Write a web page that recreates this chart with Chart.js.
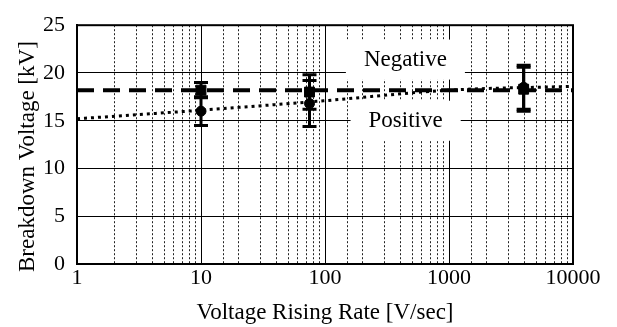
<!DOCTYPE html>
<html>
<head>
<meta charset="utf-8">
<script src="https://cdn.jsdelivr.net/npm/chart.js@4.4.0/dist/chart.umd.min.js"></script>
<style>
  html, body { margin: 0; padding: 0; background: #fff; }
  #wrap { width: 617px; height: 327px; }
</style>
</head>
<body>
<div id="wrap"><canvas id="chart" width="617" height="327"></canvas></div>
<script>
// measured points
const rates = [10, 75, 4000];
const negative = [18.2, 18.0, 18.3];
const negativeErr = [0.8, 1.8, 2.3];
const positive = [16.0, 16.8, 18.5];
const positiveErr = [1.5, 2.4, 2.3];

// fitted lines
const fitRates = [1, 10, 100, 1000, 10000];
const negativeFit = [18.2, 18.2, 18.2, 18.2, 18.2];
const positiveFit = [15.2, 16.1, 17.1, 18.2, 18.6];

const xTicks = [1, 10, 100, 1000, 10000];

// in-plot labels
const labelText = ['Negative', 'Positive'];
const labelRate = [445, 447];
const labelVolt = [21.4, 15.0];

const yTitle = 'Breakdown Voltage [kV]';
const FONT = '"Liberation Serif", "Times New Roman", serif';

function pts(xs, ys) {
    return xs.map((v, i) => ({ x: v, y: ys[i] }));
}

function isDecade(v) {
    return xTicks.includes(Math.round(v));
}

const extras = {
    id: 'extras',
    beforeDatasetsDraw(chart) {
        const { ctx, chartArea: a, scales: { x, y } } = chart;
        ctx.save();
        // dotted minor grid
        ctx.strokeStyle = '#222';
        ctx.lineWidth = 1;
        ctx.setLineDash([2, 2]);
        x.ticks.forEach(t => {
            if (isDecade(t.value)) return;
            const px = Math.round(x.getPixelForValue(t.value)) + 0.5;
            ctx.beginPath();
            ctx.moveTo(px, a.top);
            ctx.lineTo(px, a.bottom);
            ctx.stroke();
        });
        ctx.setLineDash([]);
        // labels on white boxes
        ctx.font = '23px ' + FONT;
        ctx.textAlign = 'center';
        ctx.textBaseline = 'middle';
        labelText.forEach((txt, i) => {
            const px = x.getPixelForValue(labelRate[i]);
            const py = y.getPixelForValue(labelVolt[i]);
            const w = ctx.measureText(txt).width;
            ctx.fillStyle = '#fff';
            ctx.fillRect(px - w / 2 - 18, py - 20, w + 36, 40);
            ctx.fillStyle = '#000';
            ctx.fillText(txt, px, py);
        });
        ctx.restore();
    },
    afterDatasetsDraw(chart) {
        const { ctx, chartArea: a, scales: { x, y } } = chart;
        ctx.save();
        ctx.strokeStyle = '#000';
        ctx.lineWidth = 3;
        const bars = (vals, errs) => {
            rates.forEach((r, i) => {
                const px = x.getPixelForValue(r);
                const top = y.getPixelForValue(vals[i] + errs[i]);
                const bot = y.getPixelForValue(vals[i] - errs[i]);
                ctx.beginPath();
                ctx.moveTo(px, top); ctx.lineTo(px, bot);
                ctx.moveTo(px - 7, top); ctx.lineTo(px + 7, top);
                ctx.moveTo(px - 7, bot); ctx.lineTo(px + 7, bot);
                ctx.stroke();
            });
        };
        bars(negative, negativeErr);
        bars(positive, positiveErr);
        // frame
        ctx.lineWidth = 2;
        ctx.strokeRect(a.left, a.top, a.right - a.left, a.bottom - a.top);
        ctx.restore();
    },
    afterDraw(chart) {
        // y title, sits a little below the plot centre in the original
        const { ctx, chartArea: a } = chart;
        ctx.save();
        ctx.translate(28, (a.top + a.bottom) / 2 + 12);
        ctx.rotate(-Math.PI / 2);
        ctx.font = '23px ' + FONT;
        ctx.fillStyle = '#000';
        ctx.textAlign = 'center';
        ctx.textBaseline = 'middle';
        ctx.fillText(yTitle, 0, 0);
        ctx.restore();
    }
};

new Chart(document.getElementById('chart'), {
    type: 'line',
    data: {
        datasets: [
            {
                label: 'Negative',
                data: pts(rates, negative),
                showLine: false,
                pointStyle: 'rect',
                pointRadius: 7,
                backgroundColor: '#000',
                borderColor: '#000'
            },
            {
                label: 'Positive',
                data: pts(rates, positive),
                showLine: false,
                pointStyle: 'circle',
                pointRadius: 5,
                backgroundColor: '#000',
                borderColor: '#000'
            },
            {
                label: 'Negative fit',
                data: pts(fitRates, negativeFit),
                borderColor: '#000',
                borderWidth: 4,
                borderDash: [17, 9],
                pointRadius: 0
            },
            {
                label: 'Positive fit',
                data: pts(fitRates, positiveFit),
                borderColor: '#000',
                borderWidth: 3,
                borderDash: [3, 4],
                cubicInterpolationMode: 'monotone',
                pointRadius: 0
            }
        ]
    },
    options: {
        responsive: false,
        animation: false,
        devicePixelRatio: 1,
        layout: { padding: { left: 0, top: 23, right: 44, bottom: 0 } },
        plugins: {
            legend: { display: false },
            tooltip: { enabled: false }
        },
        scales: {
            x: {
                type: 'logarithmic',
                min: 1,
                max: 10000,
                afterFit: s => { s.height = 63; },
                border: { color: '#000', width: 2 },
                grid: {
                    drawTicks: false,
                    color: c => (c.tick && isDecade(c.tick.value)) ? '#000' : 'rgba(0,0,0,0)',
                    lineWidth: 1
                },
                ticks: {
                    autoSkip: false,
                    maxRotation: 0,
                    padding: 1,
                    color: '#000',
                    font: { family: FONT, size: 22 },
                    callback: v => isDecade(v) ? String(Math.round(v)) : ''
                },
                title: {
                    display: true,
                    text: 'Voltage Rising Rate [V/sec]',
                    color: '#000',
                    font: { family: FONT, size: 23 },
                    padding: { top: 0, bottom: 0 }
                }
            },
            y: {
                min: 0,
                max: 25,
                afterFit: s => { s.width = 77; },
                border: { color: '#000', width: 2 },
                grid: { drawTicks: false, color: '#000', lineWidth: 1 },
                ticks: {
                    stepSize: 5,
                    padding: 12,
                    color: '#000',
                    font: { family: FONT, size: 22 }
                },
                title: { display: false }
            }
        }
    },
    plugins: [extras]
});
</script>
</body>
</html>
